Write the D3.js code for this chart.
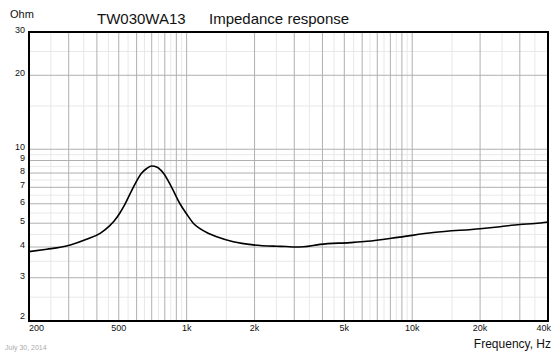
<!DOCTYPE html>
<meta charset="utf-8">
<style>
body { margin: 0; background: #fff; }
text { font-family: "Liberation Sans", Arial, sans-serif; fill: #111; }
</style>
<body>
<script src="https://d3js.org/d3.v7.min.js"></script>
<script>
// impedance curve
var freqHz = [200, 240, 275, 305, 360, 415, 455, 475, 505, 530, 580, 632, 665, 700, 740, 788, 858, 934, 1000, 1070,
              1146, 1245, 1360, 1610, 1975, 2500, 2750, 3020, 3300, 3900, 5300, 6300, 8800, 12400, 20000, 24500, 30000, 35000, 40000];
var impedanceOhm = [3.83, 3.92, 3.99, 4.08, 4.30, 4.56, 4.88, 5.08, 5.49, 5.92, 7.00, 8.00, 8.35, 8.55, 8.45, 8.00, 7.00, 6.00, 5.45, 5.00,
                    4.75, 4.55, 4.40, 4.20, 4.08, 4.03, 4.02, 4.00, 4.01, 4.10, 4.17, 4.22, 4.39, 4.58, 4.75, 4.84, 4.94, 4.99, 5.06];

var xTickValues = [200, 500, 1000, 2000, 5000, 10000, 20000, 40000];
var xTickLabels = ["200", "500", "1k", "2k", "5k", "10k", "20k", "40k"];
var yTickValues = [2, 3, 4, 5, 6, 7, 8, 9, 10, 20, 30];

var xMajorGrid = [300, 400, 500, 600, 700, 800, 900, 1000, 2000, 3000, 4000, 5000, 6000, 7000, 8000, 9000, 10000, 20000, 30000];
var xMinorGrid = [250, 350, 450, 550, 650, 750, 850, 950, 1500, 2500, 3500, 4500, 5500, 6500, 7500, 8500, 9500, 15000, 25000, 35000];
var yMajorGrid = [3, 4, 5, 6, 7, 8, 9, 10, 20];
var yMinorGrid = [2.5, 3.5, 4.5, 5.5, 6.5, 7.5, 8.5, 9.5, 15, 25];

var chartTitle = "TW030WA13", chartSubtitle = "Impedance response";
var yUnit = "Ohm", xUnit = "Frequency, Hz", dateNote = "July 30, 2014";

var width = 560, height = 354;
var plotL = 29, plotR = 548, plotT = 32, plotB = 321;

var svg = d3.select("body").append("svg")
    .attr("width", width)
    .attr("height", height);

var x = d3.scaleLog().domain([200, 40000]).range([plotL, plotR]);
var y = d3.scaleLog().domain([2, 30]).range([plotB, plotT]);

var grid = svg.append("g");

grid.selectAll(".xminor").data(xMinorGrid).enter().append("line")
    .attr("x1", x).attr("x2", x).attr("y1", plotT).attr("y2", plotB)
    .attr("stroke", "#e8e8e8");
grid.selectAll(".yminor").data(yMinorGrid).enter().append("line")
    .attr("x1", plotL).attr("x2", plotR).attr("y1", y).attr("y2", y)
    .attr("stroke", "#e8e8e8");
grid.selectAll(".xmajor").data(xMajorGrid).enter().append("line")
    .attr("x1", x).attr("x2", x).attr("y1", plotT).attr("y2", plotB)
    .attr("stroke", "#b0b0b0");
grid.selectAll(".ymajor").data(yMajorGrid).enter().append("line")
    .attr("x1", plotL).attr("x2", plotR).attr("y1", y).attr("y2", y)
    .attr("stroke", "#b0b0b0");

var line = d3.line()
    .x(function(d) { return x(d[0]); })
    .y(function(d) { return y(d[1]); })
    .curve(d3.curveMonotoneX);

svg.append("path")
    .datum(d3.zip(freqHz, impedanceOhm))
    .attr("d", line)
    .attr("fill", "none")
    .attr("stroke", "#000")
    .attr("stroke-width", 1.6);

svg.append("rect")
    .attr("x", plotL).attr("y", plotT)
    .attr("width", plotR - plotL).attr("height", plotB - plotT)
    .attr("fill", "none")
    .attr("stroke", "#000")
    .attr("stroke-width", 2);

// tick labels
svg.selectAll(".ylab").data(yTickValues).enter().append("text")
    .attr("x", 25)
    .attr("y", function(d) { return d === 2 ? y(d) - 2.5 : y(d) + 1; })
    .attr("text-anchor", "end")
    .style("font-size", "9px")
    .text(function(d) { return d; });

svg.selectAll(".xlab").data(xTickValues).enter().append("text")
    .attr("x", function(d, i) { return i === xTickValues.length - 1 ? x(d) + 3 : x(d); })
    .attr("y", 331)
    .attr("text-anchor", function(d, i) {
      return i === 0 ? "start" : (i === xTickValues.length - 1 ? "end" : "middle");
    })
    .style("font-size", "9px")
    .text(function(d, i) { return xTickLabels[i]; });

svg.append("text").attr("x", 10).attr("y", 17.5)
    .style("font-size", "11px").text(yUnit);
svg.append("text").attr("x", 97).attr("y", 23.5)
    .style("font-size", "15px").text(chartTitle);
svg.append("text").attr("x", 209).attr("y", 23.5)
    .style("font-size", "15px").text(chartSubtitle);
svg.append("text").attr("x", 551).attr("y", 348)
    .attr("text-anchor", "end")
    .style("font-size", "12px").text(xUnit);
svg.append("text").attr("x", 5).attr("y", 350)
    .style("font-size", "7px").style("fill", "#aaa").text(dateNote);
</script>
</body>
